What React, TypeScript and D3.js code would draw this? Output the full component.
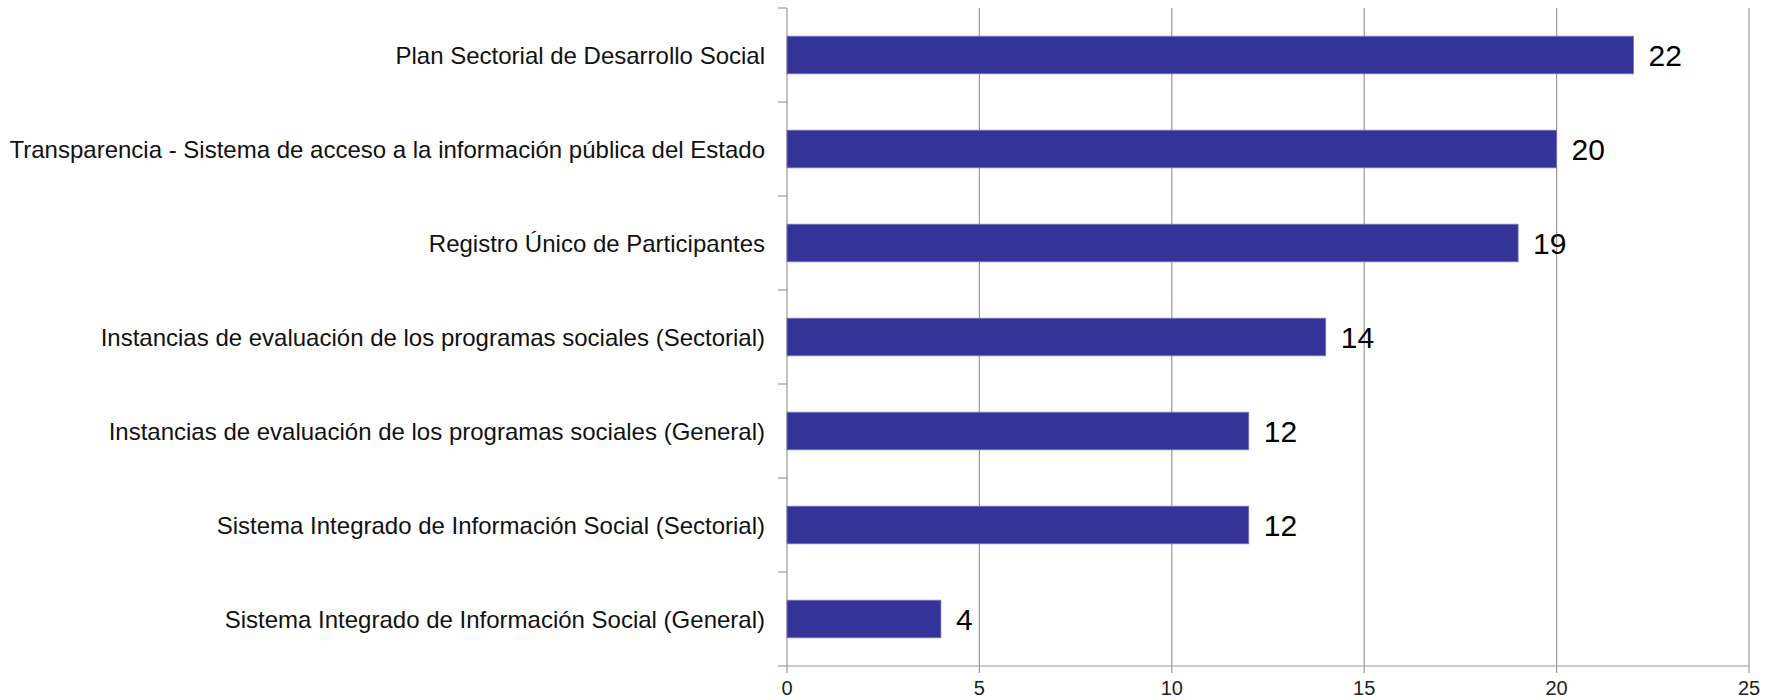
import React from "react";
import * as d3 from "d3";

const categories = [
  "Plan Sectorial de Desarrollo Social",
  "Transparencia - Sistema de acceso a la información pública del Estado",
  "Registro Único de Participantes",
  "Instancias de evaluación de los programas sociales (Sectorial)",
  "Instancias de evaluación de los programas sociales (General)",
  "Sistema Integrado de Información Social (Sectorial)",
  "Sistema Integrado de Información Social (General)",
];
const values = [22, 20, 19, 14, 12, 12, 4];
const xTicks = [0, 5, 10, 15, 20, 25];

const W = 1767;
const H = 700;
const margin = { left: 787, right: 18, top: 8, bottom: 34 };

export default function App() {
  const x = d3.scaleLinear().domain([0, 25]).range([margin.left, W - margin.right]);
  const y = d3
    .scaleBand<string>()
    .domain(categories)
    .range([margin.top, H - margin.bottom])
    .paddingInner(0.6)
    .paddingOuter(0.3);
  const bounds = d3.range(categories.length + 1).map((i) => margin.top + i * ((H - margin.bottom - margin.top) / categories.length));
  const font = "Arial, 'Liberation Sans', sans-serif";
  const y0 = margin.top;
  const y1 = H - margin.bottom;
  return (
    <svg
      width={W}
      height={H}
      style={{ position: "absolute", left: 0, top: 0, display: "block", background: "#fff" }}
      fontFamily={font}
    >
      {xTicks.map((t) => (
        <g key={t}>
          <line x1={x(t)} x2={x(t)} y1={y0} y2={y1 + 7} stroke="#9a9a9a" strokeWidth={1.2} />
          <text x={x(t)} y={y1 + 29} textAnchor="middle" fontSize={20} fill="#222">
            {t}
          </text>
        </g>
      ))}
      <line x1={x(0)} x2={x(25)} y1={y1} y2={y1} stroke="#9a9a9a" strokeWidth={1.2} />
      {bounds.map((b, i) => (
        <line key={i} x1={x(0) - 9} x2={x(0)} y1={b} y2={b} stroke="#9a9a9a" strokeWidth={1.2} />
      ))}
      {categories.map((c, i) => {
        const by = y(c)!;
        const bh = y.bandwidth();
        const cy = by + bh / 2;
        return (
          <g key={c}>
            <rect x={x(0)} y={by} width={x(values[i]) - x(0)} height={bh} fill="#333399" stroke="#7a7ab8" strokeWidth={0.8} />
            <text x={x(0) - 22} y={cy} dy="0.36em" textAnchor="end" fontSize={24} fill="#111">
              {c}
            </text>
            <text x={x(values[i]) + 15} y={cy} dy="0.36em" fontSize={30} fill="#000">
              {values[i]}
            </text>
          </g>
        );
      })}
    </svg>
  );
}
